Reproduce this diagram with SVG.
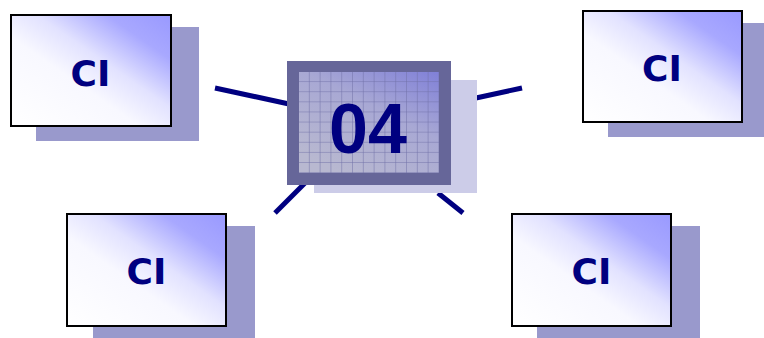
<svg xmlns="http://www.w3.org/2000/svg" width="764" height="338" viewBox="0 0 764 338">
<style>
.shadow{fill:#9999cc}
.box{fill:url(#boxg);stroke:#000;stroke-width:2}
.ci{font-family:"DejaVu Sans",Verdana,sans-serif;font-weight:bold;font-size:36px;fill:#000080;text-anchor:middle}
.conn{stroke:#000080;stroke-width:5;fill:none}
</style>
<defs>
<linearGradient id="boxg" x1="1" y1="0" x2="0" y2="1">
<stop offset="0" stop-color="#9999ff"/>
<stop offset="0.2" stop-color="#a8a8ff"/>
<stop offset="0.42" stop-color="#e2e2ff"/>
<stop offset="0.6" stop-color="#f8f8ff"/>
<stop offset="1" stop-color="#ffffff"/>
</linearGradient>
<linearGradient id="gridg" x1="1" y1="0" x2="0.3" y2="1">
<stop offset="0" stop-color="#8080d8"/>
<stop offset="0.45" stop-color="#a8a8d4"/>
<stop offset="1" stop-color="#b8b8d0"/>
</linearGradient>
<pattern id="grid" x="299" y="72" width="10.8" height="10.1" patternUnits="userSpaceOnUse">
<path d="M10.8 0V10.1M0 10.1H10.8" stroke="#7070a8" stroke-width="1" fill="none"/>
</pattern>
</defs>
<g id="connectors">
<line class="conn" x1="215" y1="88" x2="289" y2="104"/>
<line class="conn" x1="476" y1="98" x2="522" y2="88"/>
<line class="conn" x1="275" y1="213" x2="306" y2="182"/>
<line class="conn" x1="438" y1="193" x2="463" y2="213"/>
</g>
<g id="center">
<rect x="314" y="80" width="163" height="113" fill="#ccccE8"/>
<rect x="287" y="61" width="164" height="124" fill="#666699"/>
<rect x="299" y="72" width="140" height="101" fill="url(#gridg)"/>
<rect x="299" y="72" width="140" height="101" fill="url(#grid)"/>
<text x="368" y="153" font-family="'Liberation Sans',Arial,sans-serif" font-weight="bold" font-size="70" fill="#000080" text-anchor="middle">04</text>
</g>
<g id="ci-top-left">
<rect class="shadow" x="36" y="27" width="163" height="114"/>
<rect class="box" x="11" y="15" width="160" height="111"/>
<text class="ci" x="90.5" y="86">CI</text>
</g>
<g id="ci-top-right">
<rect class="shadow" x="608" y="23" width="156" height="114"/>
<rect class="box" x="583" y="11" width="159" height="111"/>
<text class="ci" x="662" y="81">CI</text>
</g>
<g id="ci-bottom-left">
<rect class="shadow" x="93" y="226" width="162" height="112"/>
<rect class="box" x="67" y="214" width="159" height="112"/>
<text class="ci" x="146.5" y="284">CI</text>
</g>
<g id="ci-bottom-right">
<rect class="shadow" x="537" y="226" width="163" height="112"/>
<rect class="box" x="512" y="214" width="159" height="112"/>
<text class="ci" x="591.5" y="284">CI</text>
</g>
</svg>
